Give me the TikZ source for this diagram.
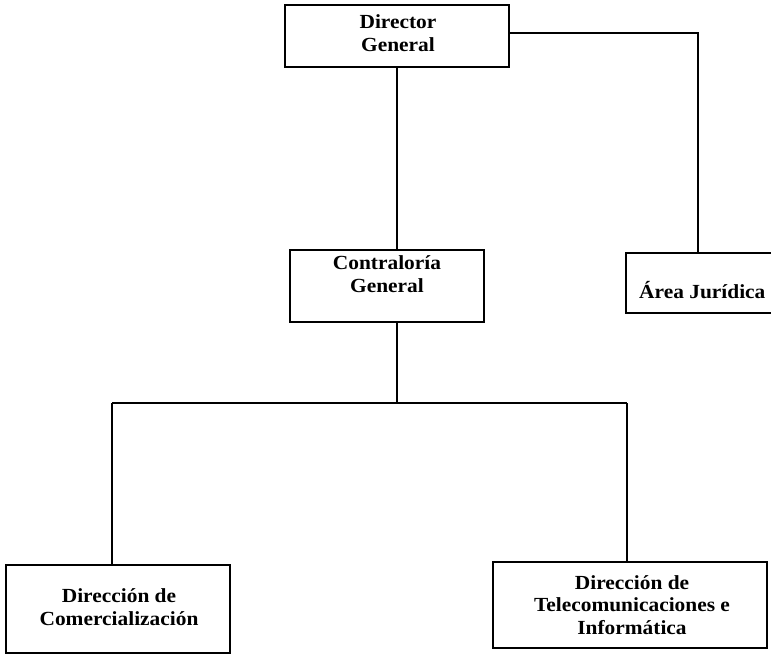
\documentclass[tikz,border=0pt]{standalone}
\usepackage{fontspec}
\setmainfont[FakeStretch=1.07]{Liberation Serif}
\begin{document}
\begin{tikzpicture}[x=1pt,y=-1pt,
  box/.style={draw=black,line width=1.3pt,rectangle,inner sep=0pt},
  txt/.style={align=center,font=\bfseries\fontsize{20}{22.5}\selectfont,inner sep=0pt},
  conn/.style={draw=black,line width=1.7pt}]
\useasboundingbox (0,0) rectangle (771,655);
\clip (0,0) rectangle (771,655);
% boxes
\node[box,minimum width=224,minimum height=62] (dg) at (397,36) {};
\node[txt] (dgt) at (398,33) {Director\\General};
\node[box,minimum width=194,minimum height=72] (cg) at (387,286) {};
\node[txt] (cgt) at (387,274) {Contraloría\\General};
\node[box,minimum width=150,minimum height=60] (aj) at (701,283) {};
\node[txt,anchor=west] (ajt) at (639,290) {Área Jurídica};
\node[box,minimum width=224,minimum height=88] (lb) at (118,609) {};
\node[txt] (lbt) at (119,607) {Dirección de\\Comercialización};
\node[box,minimum width=274,minimum height=86] (rb) at (630,605) {};
\node[txt] (rbt) at (632,605) {Dirección de\\Telecomunicaciones e\\Informática};
% connectors
\coordinate (j) at (397,403);
\coordinate (hl) at (112,403);
\coordinate (hr) at (627,403);
\coordinate (ar) at (698,33);
\draw[conn] (dg.south) -- (dg.south |- cg.north);
\draw[conn] (dg.east |- ar) -- (ar) -- (ar |- aj.north);
\draw[conn] (j |- cg.south) -- (j);
\draw[conn] (hl) -- (hr);
\draw[conn] (hl) -- (hl |- lb.north);
\draw[conn] (hr) -- (hr |- rb.north);
\end{tikzpicture}
\end{document}
